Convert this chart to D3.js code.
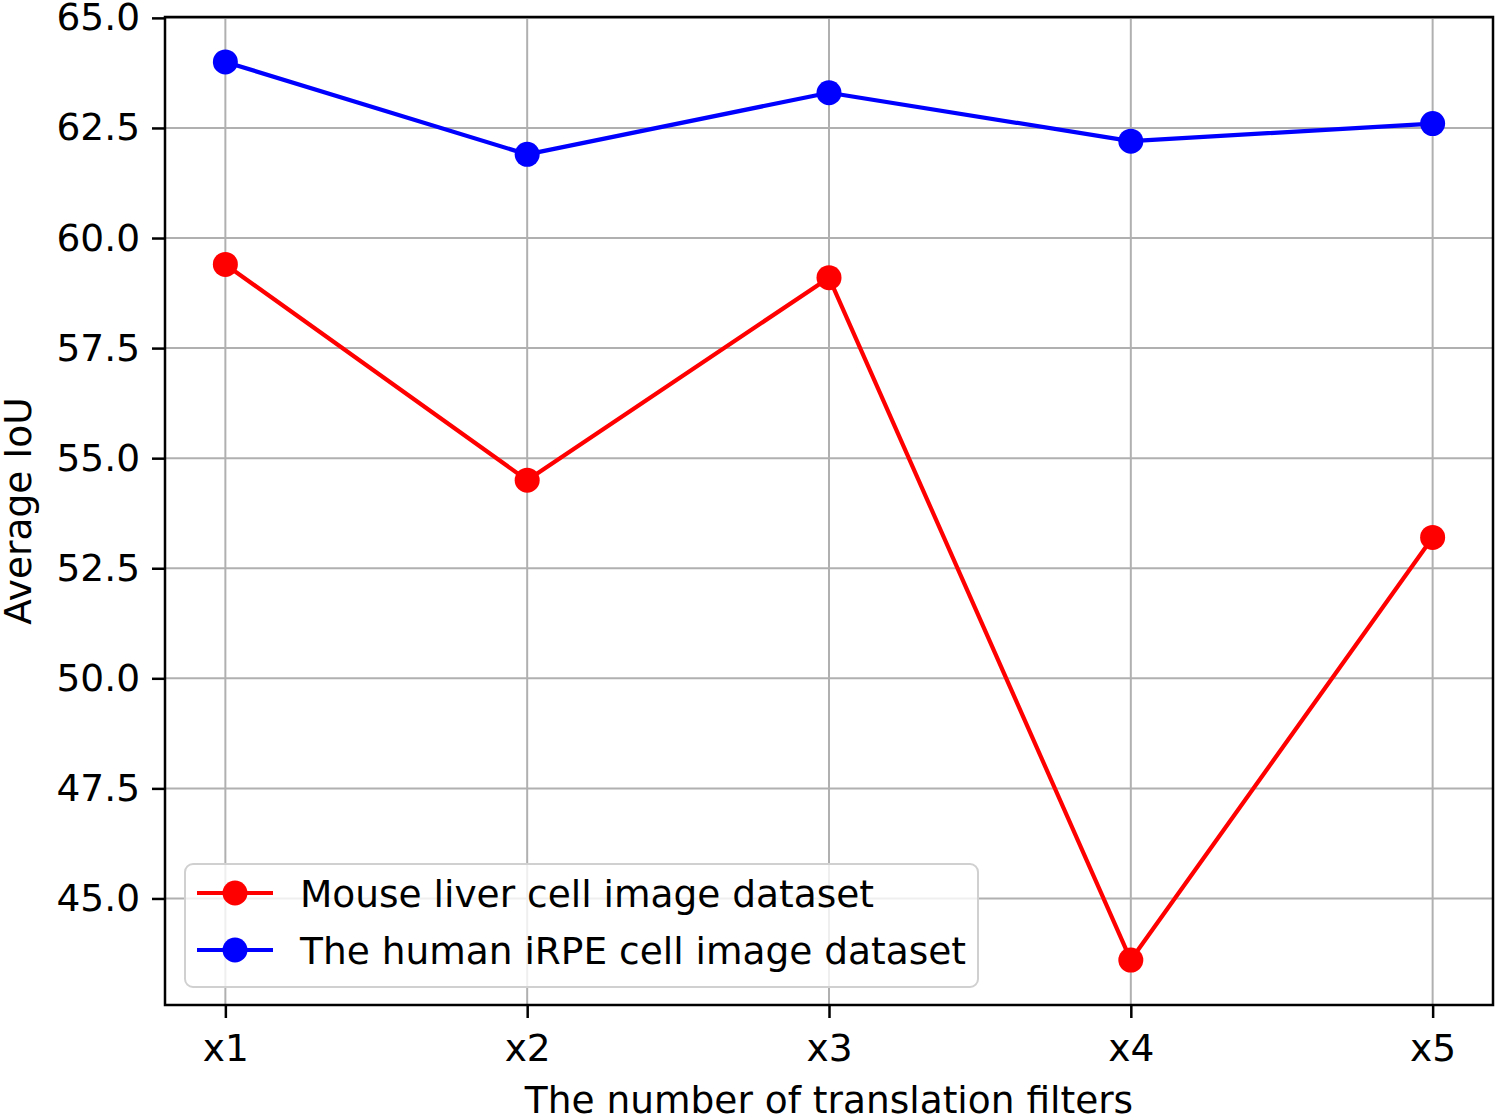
<!DOCTYPE html>
<html>
<head>
<meta charset="utf-8">
<script src="https://cdn.jsdelivr.net/npm/d3@7"></script>
<style>
  html, body { margin: 0; padding: 0; background: #fff; }
  text { font-family: "DejaVu Sans", sans-serif; }
</style>
</head>
<body>
<svg id="chart" width="1500" height="1115"></svg>
<script>
const categories = ["x1", "x2", "x3", "x4", "x5"];
const mouseValues = [59.4, 54.5, 59.1, 43.6, 53.2];
const humanValues = [64.0, 61.9, 63.3, 62.2, 62.6];
const yTicks = [45.0, 47.5, 50.0, 52.5, 55.0, 57.5, 60.0, 62.5, 65.0];
const seriesNames = ["Mouse liver cell image dataset", "The human iRPE cell image dataset"];
const seriesColors = ["#ff0000", "#0000ff"];
const xLabel = "The number of translation filters";
const yLabel = "Average IoU";

(function () {
const svg = d3.select("#chart");
const pL = 165, pR = 1493, pT = 17, pB = 1005;
const fs = 37.5;

const x = d3.scaleLinear().domain([0.8, 5.2]).range([pL, pR]);
const y = d3.scaleLinear().domain([42.58, 65.02]).range([pB, pT]);

// grid
const grid = svg.append("g");
grid.selectAll("line.v").data(categories).enter().append("line")
  .attr("x1", (d, i) => x(i + 1)).attr("x2", (d, i) => x(i + 1))
  .attr("y1", pT).attr("y2", pB)
  .attr("stroke", "#b0b0b0").attr("stroke-width", 2);
grid.selectAll("line.h").data(yTicks).enter().append("line")
  .attr("x1", pL).attr("x2", pR)
  .attr("y1", d => y(d)).attr("y2", d => y(d))
  .attr("stroke", "#b0b0b0").attr("stroke-width", 2);

// axes
const xAxis = d3.axisBottom(x).tickValues([1, 2, 3, 4, 5])
  .tickFormat((d, i) => categories[i]).tickSize(13).tickPadding(16);
const gx = svg.append("g").attr("transform", `translate(0,${pB})`).call(xAxis);
gx.select(".domain").remove();
gx.selectAll(".tick line").attr("stroke", "#000").attr("stroke-width", 2.5);
gx.selectAll(".tick text").attr("font-size", fs).attr("fill", "#000")
  .attr("font-family", "DejaVu Sans");

const yAxis = d3.axisLeft(y).tickValues(yTicks)
  .tickFormat(d3.format(".1f")).tickSize(13).tickPadding(12);
const gy = svg.append("g").attr("transform", `translate(${pL},0)`).call(yAxis);
gy.select(".domain").remove();
gy.selectAll(".tick line").attr("stroke", "#000").attr("stroke-width", 2.5);
gy.selectAll(".tick text").attr("font-size", fs).attr("fill", "#000")
  .attr("font-family", "DejaVu Sans");

// lines
const allSeries = [mouseValues, humanValues];
const line = d3.line().x((d, i) => x(i + 1)).y(d => y(d));
allSeries.forEach((vals, s) => {
  const g = svg.append("g");
  g.append("path").datum(vals).attr("d", line)
    .attr("fill", "none").attr("stroke", seriesColors[s]).attr("stroke-width", 4.2)
    .attr("stroke-linejoin", "round");
  g.selectAll("circle").data(vals).enter().append("circle")
    .attr("cx", (d, i) => x(i + 1)).attr("cy", d => y(d)).attr("r", 12.5)
    .attr("fill", seriesColors[s]);
});

// frame
svg.append("rect").attr("x", pL).attr("y", pT)
  .attr("width", pR - pL).attr("height", pB - pT)
  .attr("fill", "none").attr("stroke", "#000").attr("stroke-width", 2.5);

// legend
const lg = svg.append("g");
lg.append("rect").attr("x", 185).attr("y", 864).attr("width", 793).attr("height", 123)
  .attr("rx", 8).attr("fill", "#fff").attr("fill-opacity", 0.8)
  .attr("stroke", "#d0d0d0").attr("stroke-width", 2);
seriesNames.forEach((name, s) => {
  const yy = 893 + s * 57;
  lg.append("line").attr("x1", 197).attr("x2", 273).attr("y1", yy).attr("y2", yy)
    .attr("stroke", seriesColors[s]).attr("stroke-width", 4.2);
  lg.append("circle").attr("cx", 235).attr("cy", yy).attr("r", 12.5).attr("fill", seriesColors[s]);
  lg.append("text").attr("x", 300).attr("y", yy).attr("dy", "0.36em")
    .attr("font-size", fs).attr("fill", "#000").text(name);
});

// axis labels
svg.append("text").attr("x", (pL + pR) / 2).attr("y", 1113)
  .attr("text-anchor", "middle").attr("font-size", fs).attr("fill", "#000").text(xLabel);
svg.append("text").attr("transform", `translate(31,${(pT + pB) / 2}) rotate(-90)`)
  .attr("text-anchor", "middle").attr("font-size", fs).attr("fill", "#000").text(yLabel);
})();
</script>
</body>
</html>
